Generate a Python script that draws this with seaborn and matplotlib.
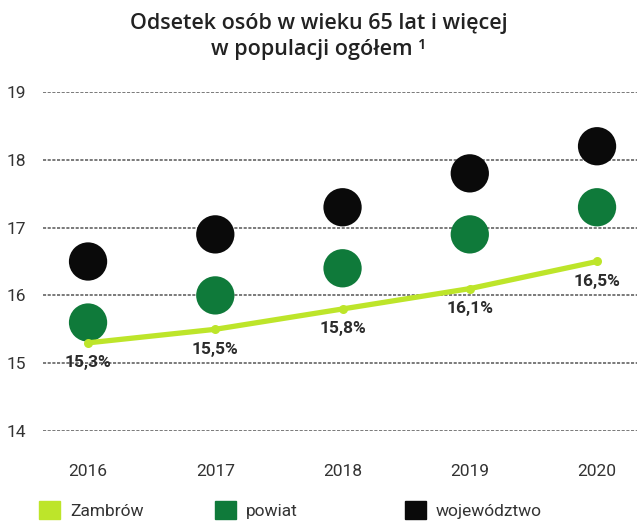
import pandas as pd
import matplotlib.pyplot as plt
import seaborn as sns
from matplotlib.patches import Patch

years = [2016, 2017, 2018, 2019, 2020]
zambrow = [15.3, 15.5, 15.8, 16.1, 16.5]
powiat = [15.6, 16.0, 16.4, 16.9, 17.3]
wojewodztwo = [16.5, 16.9, 17.3, 17.8, 18.2]
labels = ['15,3%', '15,5%', '15,8%', '16,1%', '16,5%']
series_names = ['Zambrów', 'powiat', 'województwo']

c_light = '#bde52a'
c_green = '#0f7a3a'
c_black = '#0a0a0a'

sns.set_style('white')
plt.rcParams['font.family'] = ['Roboto', 'DejaVu Sans']

df = pd.DataFrame({'rok': years, 'Zambrów': zambrow, 'powiat': powiat,
                   'województwo': wojewodztwo})

fig = plt.figure(figsize=(6.37, 5.25), dpi=100)
ax = fig.add_axes([43 / 637, 94 / 525, 594 / 637, 339 / 525])

# dashed grid lines
for v in [14, 15, 16, 17, 18, 19]:
    ax.axhline(v, color='#7a7a7a', lw=1.4, ls=(0, (1.6, 0.8)), zorder=0)

sns.scatterplot(data=df, x='rok', y='województwo', color=c_black, s=760,
                edgecolor='none', ax=ax, zorder=3, clip_on=False)
sns.scatterplot(data=df, x='rok', y='powiat', color=c_green, s=760,
                edgecolor='none', ax=ax, zorder=3, clip_on=False)
sns.lineplot(data=df, x='rok', y='Zambrów', color=c_light, lw=3.8,
             marker='o', markersize=6.5, markeredgewidth=0, ax=ax, zorder=4)

for x, y, t in zip(years, zambrow, labels):
    ax.annotate(t, (x, y), xytext=(0, -9), textcoords='offset points',
                ha='center', va='top', fontsize=12.5, fontweight='bold',
                color='#2b2b2b', zorder=5)

ax.set_xlim(2016 - 0.354, 2020 + 0.314)
ax.set_ylim(14, 19)
ax.set_xticks(years)
ax.set_yticks([14, 15, 16, 17, 18, 19])
ax.tick_params(axis='x', labelsize=12.5, pad=24, length=0, colors='#333333')
ax.tick_params(axis='y', labelsize=12.5, pad=12, length=0, colors='#333333')
ax.set_xlabel('')
ax.set_ylabel('')
sns.despine(ax=ax, left=True, bottom=True)

fig.text(0.5, 0.975, 'Odsetek osób w wieku 65 lat i więcej\nw populacji ogółem ¹',
         ha='center', va='top', fontsize=15.5, fontweight='semibold',
         family=['Open Sans', 'DejaVu Sans'], color='#222222', linespacing=1.3)

# legend: one entry per item so the gaps match the original
colors = [c_light, c_green, c_black]
lx = [0.037, 0.313, 0.611]
for name, col, x0 in zip(series_names, colors, lx):
    leg = fig.legend(handles=[Patch(color=col, label=name)], loc='center left',
                     bbox_to_anchor=(x0, 0.028), frameon=False, fontsize=12.5,
                     handlelength=1.2, handleheight=1.2, handletextpad=0.6,
                     labelcolor='#333333')

plt.savefig('out.png', dpi=100)
